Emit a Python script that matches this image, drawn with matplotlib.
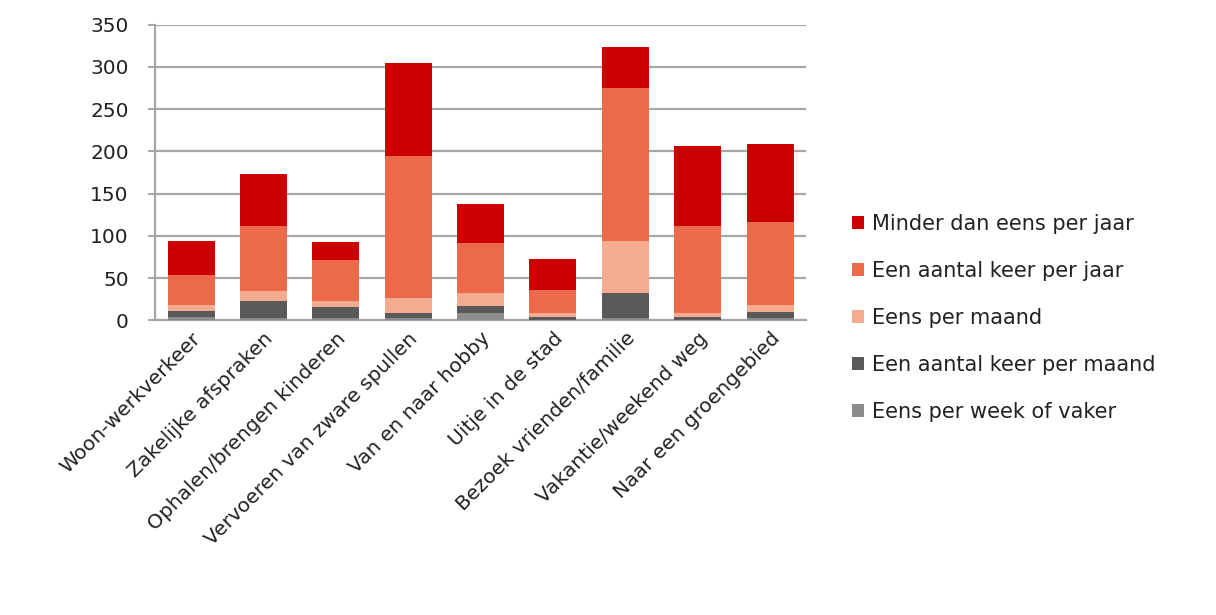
import numpy as np
from matplotlib import pyplot as plt

categories = ["Woon-werkverkeer", "Zakelijke afspraken", "Ophalen/brengen kinderen",
              "Vervoeren van zware spullen", "Van en naar hobby", "Uitje in de stad",
              "Bezoek vrienden/familie", "Vakantie/weekend weg", "Naar een groengebied"]

# number of respondents per frequency, bottom segment first
week_or_more = [3.5, 3, 3, 3, 8.5, 1, 3, 1, 3]
several_month = [7.5, 19.5, 12.5, 5.5, 9, 2.5, 29.5, 2.5, 7.5]
once_month = [7, 12.5, 7.5, 18.5, 14.5, 5, 61, 5.5, 7.5]
several_year = [35.5, 77, 49, 167.5, 59.5, 28, 181, 103, 99]
less_year = [40, 61, 21, 110, 46.5, 36, 49.5, 94, 91.5]

series = [
    ("Eens per week of vaker", week_or_more, "#8c8c8c"),
    ("Een aantal keer per maand", several_month, "#595959"),
    ("Eens per maand", once_month, "#f4ac90"),
    ("Een aantal keer per jaar", several_year, "#ec6a4c"),
    ("Minder dan eens per jaar", less_year, "#cc0000"),
]

plt.rcParams['font.family'] = ['DejaVu Sans']

fig = plt.figure(figsize=(12.16, 6.15), dpi=100)
ax = fig.add_axes([0.1275, 0.479, 0.5355, 0.481])

x = np.arange(len(categories))
bottom = np.zeros(len(categories))
handles = []
for name, vals, col in series:
    vals = np.array(vals)
    b = ax.bar(x, vals, 0.65, bottom=bottom, color=col, label=name, zorder=3)
    handles.append(b)
    bottom += vals

ax.set_xlim(-0.5, len(categories) - 0.5)
ax.set_ylim(0, 350)
ax.set_yticks(range(0, 351, 50))
ax.yaxis.grid(True, color="#a6a6a6", linewidth=1.6, zorder=0)

for side in ["top", "right"]:
    ax.spines[side].set_visible(False)
for side in ["left", "bottom"]:
    ax.spines[side].set_color("#a6a6a6")
    ax.spines[side].set_linewidth(1.6)

ax.tick_params(axis="y", length=5, width=1.4, color="#a6a6a6", labelsize=14.5, pad=14,
               labelcolor="#222222")
ax.tick_params(axis="x", length=0, pad=6, labelcolor="#222222")
ax.set_xticks(x)
ax.set_xticklabels(categories, rotation=45, ha="right", rotation_mode="anchor", fontsize=14.5)

# legend lists the top segment first
leg = fig.legend(handles[::-1], [s[0] for s in series][::-1],
                 loc="center left", bbox_to_anchor=(0.685, 0.483), frameon=False,
                 fontsize=15, handlelength=0.6, handleheight=0.6, handletextpad=0.35,
                 labelspacing=1.3)
for t in leg.get_texts():
    t.set_color("#222222")

fig.savefig("out.png", dpi=100)
